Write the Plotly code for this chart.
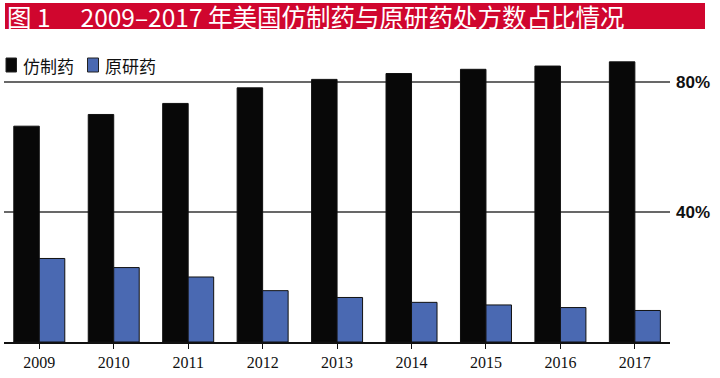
import plotly.graph_objects as go

years = ["2009", "2010", "2011", "2012", "2013", "2014", "2015", "2016", "2017"]
generic = [66.4, 70.0, 73.4, 78.2, 80.8, 82.6, 83.9, 84.9, 86.2]
brand = [25.7, 22.9, 20.0, 15.8, 13.7, 12.2, 11.4, 10.6, 9.7]
series_names = ["仿制药", "原研药"]
y_ticks = [40, 80]
y_tick_labels = ["40%", "80%"]
title_text = "图 1\u3000 2009\u20132017 年美国仿制药与原研药处方数占比情况"

BLACK = "#080808"
BLUE = "#4a69b2"
RED = "#d0062e"
CJK = "Noto Sans CJK SC, Noto Sans, sans-serif"

W, H = 720, 378
ML, MR, MT, MB = 4, 50, 55, 36

fig = go.Figure()
fig.add_trace(go.Bar(x=years, y=generic, name=series_names[0],
                     marker=dict(color=BLACK, line=dict(color="#111111", width=1))))
fig.add_trace(go.Bar(x=years, y=brand, name=series_names[1],
                     marker=dict(color=BLUE, line=dict(color="#111111", width=1))))


def ax(xp):
    return (xp - ML) / (W - ML - MR)


def ay(yp):
    return (H - MB - yp) / (H - MT - MB)


shapes = [
    dict(type="rect", xref="paper", yref="paper",
         x0=ax(5), x1=ax(705), y0=ay(29), y1=ay(3),
         fillcolor=RED, line=dict(width=0), layer="above"),
]
for x0, x1, col in [(6, 16.5, BLACK), (87.5, 98.5, BLUE)]:
    shapes.append(dict(type="rect", xref="paper", yref="paper",
                       x0=ax(x0), x1=ax(x1), y0=ay(72), y1=ay(58),
                       fillcolor=col, line=dict(color="#222222", width=1)))

annotations = [
    dict(text=title_text, xref="paper", yref="paper", x=ax(5), y=ay(16),
         xanchor="left", yanchor="middle", showarrow=False,
         font=dict(family=CJK, size=24.5, color="white")),
    dict(text=series_names[0], xref="paper", yref="paper", x=ax(21), y=ay(65),
         xanchor="left", yanchor="middle", showarrow=False,
         font=dict(family=CJK, size=17, color="#111111")),
    dict(text=series_names[1], xref="paper", yref="paper", x=ax(103), y=ay(65),
         xanchor="left", yanchor="middle", showarrow=False,
         font=dict(family=CJK, size=17, color="#111111")),
]

fig.update_layout(
    width=W, height=H,
    margin=dict(l=ML, r=MR, t=MT, b=MB, pad=0),
    paper_bgcolor="white", plot_bgcolor="white",
    barmode="group", bargap=0.315, bargroupgap=0,
    showlegend=False,
    shapes=shapes, annotations=annotations,
    xaxis=dict(range=[-0.474, 8.472], showgrid=False, showline=True,
               linecolor="#111111", linewidth=1.5, ticks="outside", ticklen=5,
               tickcolor="#111111", tickwidth=1,
               tickfont=dict(family="Liberation Serif, Times New Roman, serif", size=16, color="#111111"),
               fixedrange=True, automargin=False),
    yaxis=dict(range=[0, 88.3], side="right", tickvals=y_ticks, ticktext=y_tick_labels,
               showgrid=True, gridcolor="#686868", gridwidth=1.5, zeroline=False,
               showline=False, ticks="", ticklabelstandoff=5,
               tickfont=dict(family="Liberation Sans, Arial, sans-serif",
                             size=17, color="#111111", weight="bold"),
               fixedrange=True, automargin=False),
)

fig.write_html("out.html", config={"displayModeBar": False},
               post_script="document.body.style.margin='0';document.body.style.padding='0';")
